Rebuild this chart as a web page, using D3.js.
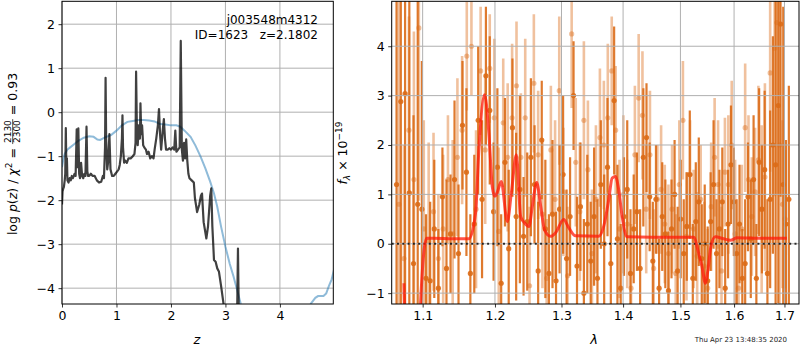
<!DOCTYPE html>
<html>
<head>
<meta charset="utf-8">
<script src="https://cdn.jsdelivr.net/npm/d3@7"></script>
<style>
  body { margin: 0; background: #fff; }
  svg { display: block; font-family: "DejaVu Sans", sans-serif; }
  .tick text { font-size: 12.5px; fill: #000; }
  .tick line { stroke: #000; stroke-width: 0.8; }
</style>
</head>
<body>
<script>
// ---- left panel: p(z) ----
var zTicks = [0, 1, 2, 3, 4];
var pzTicks = [-4, -3, -2, -1, 0, 1, 2];

var zBlack = [0.000,0.010,0.020,0.035,0.050,0.060,0.070,0.080,0.090,0.100,
  0.120,0.140,0.160,0.180,0.200,0.230,0.250,0.270,0.285,0.300,
  0.315,0.330,0.350,0.370,0.390,0.410,0.430,0.450,0.465,0.480,
  0.500,0.530,0.560,0.600,0.640,0.680,0.720,0.750,0.770,0.790,
  0.800,0.810,0.830,0.850,0.870,0.890,0.920,0.950,0.980,1.010,
  1.040,1.060,1.080,1.100,1.110,1.120,1.140,1.160,1.190,1.220,
  1.260,1.300,1.330,1.350,1.360,1.375,1.390,1.410,1.430,1.440,
  1.455,1.470,1.490,1.510,1.540,1.560,1.590,1.620,1.650,1.680,
  1.700,1.730,1.760,1.780,1.800,1.820,1.850,1.870,1.890,1.910,
  1.940,1.970,2.000,2.030,2.060,2.080,2.100,2.130,2.160,2.180,
  2.200,2.220,2.240,2.260,2.280,2.300,2.320,2.340,2.380,2.420,
  2.440,2.480,2.520,2.550,2.570,2.600,2.650,2.680,2.720,2.740,
  2.760,2.790,2.820,2.850,2.880,2.920,2.970,3.000,3.100,3.200,
  3.215,3.230,3.245,3.260,3.500];
var lnpBlack = [-2.10,-1.80,-1.75,-1.70,-1.55,-1.40,-0.36,-1.30,-1.05,-1.55,
  -1.60,-1.50,-1.55,-1.45,-1.50,-1.40,-1.45,-0.39,-1.25,-0.37,
  -1.40,-1.50,-1.15,-1.45,-1.50,-1.40,-1.45,-0.33,-1.35,-1.45,
  -1.45,-1.40,-1.45,-1.45,-1.55,-1.60,-1.58,-1.45,-1.50,-0.80,
  0.78,-0.60,-1.30,-1.10,-0.50,-1.30,-1.45,-1.45,-1.40,-1.35,
  -1.30,-1.20,-1.00,-0.60,-0.07,-0.80,-1.15,-1.10,-1.15,-1.05,
  -1.05,-1.00,-0.95,-0.70,0.92,-0.40,-0.75,-0.30,-0.60,0.20,
  -0.50,-0.30,-0.75,-0.80,-0.85,-0.95,-0.90,-1.05,-1.00,-1.05,
  -0.85,-0.60,-0.30,0.07,-0.50,-0.85,-0.40,-0.16,-0.60,-0.85,
  -0.85,-0.82,-0.85,-0.80,-0.85,-0.42,-0.90,-0.85,-0.80,1.62,
  -0.85,-1.10,-0.70,-1.05,-0.62,-1.10,-1.40,-1.50,-1.55,-1.60,
  -1.95,-2.27,-2.10,-1.90,-1.85,-2.50,-2.87,-2.60,-1.90,-1.73,
  -2.60,-3.36,-3.40,-3.55,-3.62,-3.95,-4.40,-4.80,-5.50,-5.50,
  -4.60,-3.10,-4.60,-5.50,-6.50];

var zBlue = [0.00,0.02,0.05,0.10,0.15,0.20,0.30,0.40,0.50,0.58,
  0.65,0.70,0.78,0.90,1.00,1.10,1.20,1.30,1.40,1.50,
  1.60,1.70,1.80,1.90,2.00,2.10,2.17,2.25,2.36,2.45,
  2.54,2.63,2.72,2.79,2.85,2.92,3.00,3.08,3.15,3.28,
  3.35,4.00,4.50,4.57,4.65,4.70,4.80,4.85,4.90,4.95,5.00];
var lnpBlue = [-1.25,-1.10,-0.95,-0.85,-0.80,-0.75,-0.65,-0.58,-0.55,-0.56,
  -0.62,-0.63,-0.58,-0.52,-0.42,-0.30,-0.22,-0.20,-0.18,-0.18,
  -0.19,-0.21,-0.27,-0.28,-0.30,-0.30,-0.33,-0.42,-0.56,-0.76,
  -1.00,-1.27,-1.58,-1.85,-2.15,-2.60,-3.06,-3.45,-3.74,-4.35,
  -4.60,-5.50,-4.55,-4.35,-4.22,-4.18,-4.18,-4.12,-3.95,-3.80,-3.55];

// ---- right panel: spectrum ----
var lamTicks = [1.1, 1.2, 1.3, 1.4, 1.5, 1.6, 1.7];
var fTicks = [-1, 0, 1, 2, 3, 4];

var darkWave = [1.066,1.0715,1.077,1.0825,1.088,1.0935,1.099,1.1045,1.110,1.1155,
  1.121,1.1265,1.132,1.1375,1.143,1.1485,1.154,1.1595,1.165,1.1705,
  1.176,1.1815,1.187,1.1925,1.198,1.2035,1.209,1.2145,1.220,1.2255,
  1.231,1.2365,1.242,1.2475,1.253,1.2585,1.264,1.2695,1.275,1.2805,
  1.286,1.2915,1.297,1.3025,1.308,1.3135,1.319,1.3245,1.330,1.3355,
  1.341,1.3465,1.352,1.3575,1.363,1.3685,1.374,1.3795,1.385,1.3905,
  1.396,1.4015,1.407,1.4125,1.418,1.4235,1.429,1.4345,1.440,1.4455,
  1.451,1.4565,1.462,1.4675,1.473,1.4785,1.484,1.4895,1.495,1.5005,
  1.506,1.5115,1.517,1.5225,1.528,1.5335,1.539,1.5445,1.550,1.5555,
  1.561,1.5665,1.572,1.5775,1.583,1.5885,1.594,1.5995,1.605,1.6105,
  1.616,1.6215,1.627,1.6325,1.638,1.6435,1.649,1.6545,1.660,1.6655,
  1.671,1.6765,1.682,1.6875,1.692,1.6975,1.703,1.709];
var darkFlux = [1.2,2.88,3.04,1.03,-0.4,0.8,0.7,-0.7,-0.75,0.3,
  -0.9,0.95,-0.5,0.2,1.3,-0.2,2.4,1.45,-0.6,0.4,
  2.5,0.9,3.4,2.7,0.65,1.55,-0.8,1.65,-0.1,2.35,
  0.55,1.1,0.15,0.45,1.75,1.2,-0.55,2.1,0.3,-0.6,
  0.6,-0.75,0.7,1.4,-0.3,0.55,3.0,-0.45,0.75,-1.0,
  0.4,-0.35,0.55,-0.7,1.2,0.0,1.55,-0.4,2.9,0.1,
  -0.9,0.55,1.1,-0.6,0.3,0.65,-0.5,1.75,2.15,0.95,
  -0.35,0.9,-0.9,0.55,0.2,-0.95,0.3,1.0,-0.55,0.5,
  -0.2,0.35,1.4,-0.7,0.45,0.85,-0.3,0.0,-0.75,0.45,
  1.2,-0.2,0.3,0.85,-0.9,0.4,1.6,0.85,-0.2,0.4,
  -0.7,-0.4,0.95,0.1,1.3,-0.7,1.65,0.7,1.5,-0.6,
  0.9,2.0,1.6,2.8,4.45,1.2,0.4,0.9];
var darkErr = [5.0,4.5,6.0,5.5,3.0,4.5,3.0,1.3,1.6,1.4,
  1.2,1.0,1.8,1.2,1.6,1.4,1.3,1.7,1.2,1.4,
  1.5,1.6,1.4,1.5,1.4,1.6,1.4,1.3,1.6,1.4,
  1.7,1.9,1.2,1.4,1.6,1.2,1.4,1.2,1.4,1.2,
  1.5,1.4,1.3,1.6,1.4,1.2,1.1,1.4,1.3,1.5,
  1.4,1.2,1.4,1.6,1.3,1.4,1.4,1.4,1.5,1.5,
  1.3,1.2,1.4,1.3,1.1,1.2,1.2,1.4,1.1,1.1,
  1.2,1.1,1.0,1.1,1.1,1.2,1.0,1.1,1.3,1.2,
  1.1,1.1,1.3,1.1,1.2,1.3,1.1,1.2,1.1,1.0,
  1.3,1.1,1.2,1.1,1.2,1.1,1.2,1.1,1.1,1.2,
  1.0,1.3,1.1,1.2,1.3,1.1,1.5,1.3,1.6,1.5,
  1.8,2.2,3.8,4.0,3.5,3.6,1.7,2.3];

var lightWave = [1.069,1.0755,1.082,1.0885,1.095,1.1015,1.108,1.1145,1.121,1.1275,
  1.134,1.1405,1.147,1.1535,1.160,1.1665,1.173,1.1795,1.186,1.1925,
  1.199,1.2055,1.212,1.2185,1.225,1.2315,1.238,1.2445,1.251,1.2575,
  1.264,1.2705,1.277,1.2835,1.290,1.2965,1.303,1.3095,1.316,1.3225,
  1.329,1.3355,1.342,1.3485,1.355,1.3615,1.368,1.3745,1.381,1.3875,
  1.394,1.4005,1.407,1.4135,1.420,1.4265,1.433,1.4395,1.446,1.4525,
  1.459,1.4655,1.472,1.4785,1.485,1.4915,1.498,1.5045,1.511,1.5175,
  1.524,1.5305,1.537,1.5435,1.550,1.5565,1.563,1.5695,1.576,1.5825,
  1.589,1.5955,1.602,1.6085,1.615,1.6215,1.628,1.6345,1.641,1.6475,
  1.654,1.6605,1.671,1.680,1.6845,1.690,1.696,1.7015];
var lightFlux = [0.8,-0.3,2.3,1.3,4.37,0.3,0.05,0.65,-0.3,0.3,
  1.3,0.2,1.75,2.3,3.8,4.0,0.7,3.5,1.9,3.55,
  2.55,0.25,2.45,1.75,2.55,3.2,1.75,2.55,-0.85,3.25,
  1.8,0.6,-0.7,1.9,0.9,3.1,1.05,-0.65,4.25,1.65,
  0.65,2.5,1.5,-0.2,0.9,2.15,2.0,2.55,3.5,2.3,
  0.3,1.0,0.4,-0.9,1.8,2.95,2.6,0.7,1.8,-0.5,
  0.9,1.1,0.4,-0.2,0.7,-0.6,1.2,2.5,0.15,1.4,
  0.3,-0.25,0.9,-0.45,-0.9,0.75,1.75,1.2,-0.55,1.45,
  1.2,2.0,0.2,-0.9,0.3,2.35,1.3,0.55,1.05,1.7,
  0.7,1.35,3.46,3.96,4.48,2.0,0.8,0.5];
var lightErr = [4.5,2.3,2.3,3.0,3.5,2.2,2.0,1.6,1.3,1.5,
  1.3,1.9,1.6,1.5,1.1,1.0,1.6,1.3,1.5,1.1,
  1.6,1.7,1.3,1.5,1.5,1.3,1.3,1.6,1.6,1.4,
  1.3,1.5,1.2,1.3,1.6,1.5,1.3,1.4,1.5,1.3,
  1.4,1.6,1.4,1.3,1.5,1.4,1.3,1.5,1.1,1.3,
  1.4,1.6,1.3,1.3,1.4,1.3,1.3,1.3,1.3,1.2,
  1.1,1.3,1.2,1.4,1.3,1.2,1.3,1.2,1.3,1.1,
  1.2,1.3,1.1,1.3,1.2,1.3,1.2,1.3,1.3,1.1,
  1.4,1.3,1.5,1.3,1.3,1.3,1.3,1.2,1.3,1.5,
  1.7,1.9,2.0,3.0,3.5,3.5,1.7,1.4];

var modelWave = [1.0755,1.080,1.095,1.0973,1.1053,1.115,1.140,1.1631,1.1723,1.1770,
  1.1851,1.1912,1.1961,1.1998,1.2033,1.2091,1.2180,1.2239,1.2313,1.2377,
  1.2436,1.2501,1.2552,1.2618,1.2679,1.2738,1.2829,1.2906,1.3035,1.3116,
  1.3220,1.3596,1.3677,1.3760,1.3817,1.3871,1.3927,1.3984,1.4068,1.450,
  1.5240,1.5332,1.5394,1.5456,1.5505,1.5561,1.5641,1.5801,1.5929,1.6057,
  1.650,1.705];
var modelFlux = [-0.8,-2.5,-2.5,-1.2,0.11,0.11,0.10,0.10,0.62,1.90,
  3.02,2.24,1.16,0.96,1.04,1.26,0.45,1.03,1.80,0.55,
  0.42,0.35,0.76,1.24,0.76,0.28,0.15,0.22,0.49,0.32,
  0.16,0.15,0.35,0.89,1.33,1.36,1.09,0.55,0.14,0.13,
  0.13,-0.19,-0.46,-0.80,-0.53,-0.05,0.14,0.10,0.07,0.12,
  0.11,0.11];

var w = 800, h = 350;
var svg = d3.select("body").append("svg")
  .attr("width", w)
  .attr("height", h);

var gridColor = "#b0b0b0";

// ================= left panel =================
var L = {x0: 62, x1: 333.3, y0: 1.3, y1: 304};
var xz = d3.scaleLinear().domain([0, 4.98]).range([L.x0, L.x1]);
var yp = d3.scaleLinear().domain([-4.36, 2.52]).range([L.y1, L.y0]);

svg.append("clipPath").attr("id", "clipL").append("rect")
  .attr("x", L.x0).attr("y", L.y0).attr("width", L.x1 - L.x0).attr("height", L.y1 - L.y0);

var gL = svg.append("g");
gL.selectAll("line.gx").data(zTicks).enter().append("line")
  .attr("x1", function(d){ return xz(d); }).attr("x2", function(d){ return xz(d); })
  .attr("y1", L.y0).attr("y2", L.y1)
  .attr("stroke", gridColor).attr("stroke-width", 1);
gL.selectAll("line.gy").data(pzTicks).enter().append("line")
  .attr("y1", function(d){ return yp(d); }).attr("y2", function(d){ return yp(d); })
  .attr("x1", L.x0).attr("x2", L.x1)
  .attr("stroke", gridColor).attr("stroke-width", 1);

var lineL = d3.line()
  .x(function(d){ return xz(d[0]); })
  .y(function(d){ return yp(d[1]); });

var dataL = gL.append("g").attr("clip-path", "url(#clipL)");
dataL.append("path")
  .datum(d3.zip(zBlue, lnpBlue))
  .attr("d", lineL)
  .attr("fill", "none")
  .attr("stroke", "#1f77b4")
  .attr("stroke-opacity", 0.5)
  .attr("stroke-width", 2);
dataL.append("path")
  .datum(d3.zip(zBlack, lnpBlack))
  .attr("d", lineL)
  .attr("fill", "none")
  .attr("stroke", "#000")
  .attr("stroke-opacity", 0.75)
  .attr("stroke-width", 2.2)
  .attr("stroke-linejoin", "round");

svg.append("g")
  .attr("transform", "translate(0," + L.y1 + ")")
  .call(d3.axisBottom(xz).tickValues(zTicks).tickFormat(d3.format("d")).tickSize(3.5).tickPadding(3.5))
  .call(function(g){ g.select(".domain").remove(); })
  .selectAll("text").attr("font-family", "DejaVu Sans");
svg.append("g")
  .attr("transform", "translate(" + L.x0 + ",0)")
  .call(d3.axisLeft(yp).tickValues(pzTicks).tickFormat(d3.format("d")).tickSize(3.5).tickPadding(3.5))
  .call(function(g){ g.select(".domain").remove(); })
  .selectAll("text").attr("font-family", "DejaVu Sans");

svg.append("rect")
  .attr("x", L.x0).attr("y", L.y0).attr("width", L.x1 - L.x0).attr("height", L.y1 - L.y0)
  .attr("fill", "none").attr("stroke", "#000").attr("stroke-width", 1);

svg.append("text").attr("x", 318).attr("y", 24).attr("text-anchor", "end")
  .attr("font-size", "12px").text("j003548m4312");
svg.append("text").attr("x", 318).attr("y", 39).attr("text-anchor", "end")
  .attr("font-size", "12px").attr("xml:space", "preserve").text("ID=1623   z=2.1802");

svg.append("text").attr("x", 197).attr("y", 344).attr("text-anchor", "middle")
  .attr("font-size", "13px").attr("font-style", "italic").text("z");

// y label with fraction
var yl = svg.append("g");
var t1 = yl.append("text").attr("x", 0).attr("y", 0).attr("font-size", "12.5px")
  .attr("xml:space", "preserve");
t1.append("tspan").text("log ");
t1.append("tspan").attr("font-style", "italic").text("p");
t1.append("tspan").text("(");
t1.append("tspan").attr("font-style", "italic").text("z");
t1.append("tspan").text(") / ");
t1.append("tspan").attr("font-style", "italic").text("χ");
t1.append("tspan").attr("font-size", "9px").attr("dy", -5).text("2");
t1.append("tspan").attr("dy", 5).text(" = ");
var w1 = t1.node().getComputedTextLength();
var num = yl.append("text").attr("font-size", "9px").attr("text-anchor", "middle").text("2130");
var den = yl.append("text").attr("font-size", "9px").attr("text-anchor", "middle").text("2300");
var fw = den.node().getComputedTextLength() + 2;
num.attr("x", w1 + fw / 2).attr("y", -5.6);
den.attr("x", w1 + fw / 2).attr("y", 3.2);
yl.append("line").attr("x1", w1).attr("x2", w1 + fw).attr("y1", -4.3).attr("y2", -4.3)
  .attr("stroke", "#000").attr("stroke-width", 0.7);
var t3 = yl.append("text").attr("x", w1 + fw).attr("y", 0).attr("font-size", "12.5px")
  .attr("xml:space", "preserve").text(" = 0.93");
var wl = w1 + fw + t3.node().getComputedTextLength();
yl.attr("transform", "translate(17,154) rotate(-90) translate(" + (-wl / 2) + ",0)");

// ================= right panel =================
var R = {x0: 391.7, x1: 799, y0: 1.3, y1: 304};
var xl = d3.scaleLog().domain([1.0598, 1.730]).range([R.x0, R.x1]);
var yf = d3.scaleLinear().domain([-1.22, 4.91]).range([R.y1, R.y0]);

svg.append("clipPath").attr("id", "clipR").append("rect")
  .attr("x", R.x0).attr("y", R.y0).attr("width", R.x1 - R.x0).attr("height", R.y1 - R.y0);

var gR = svg.append("g").attr("clip-path", "url(#clipR)");

var orange = "#dc6c17";
var darkPts = darkWave.map(function(d, i){ return {w: d, f: darkFlux[i], e: darkErr[i]}; });
var lightPts = lightWave.map(function(d, i){ return {w: d, f: lightFlux[i], e: lightErr[i]}; });

gR.selectAll("line.dk").data(darkPts).enter().append("line")
  .attr("class", "dk")
  .attr("x1", function(d){ return xl(d.w); }).attr("x2", function(d){ return xl(d.w); })
  .attr("y1", function(d){ return yf(d.f - d.e); }).attr("y2", function(d){ return yf(d.f + d.e); })
  .attr("stroke", orange).attr("stroke-opacity", 0.9).attr("stroke-width", 2.2);
gR.selectAll("circle.dk").data(darkPts).enter().append("circle")
  .attr("class", "dk")
  .attr("cx", function(d){ return xl(d.w); }).attr("cy", function(d){ return yf(d.f); })
  .attr("r", 2.6).attr("fill", orange).attr("fill-opacity", 0.9);

gR.selectAll("line.lt").data(lightPts).enter().append("line")
  .attr("class", "lt")
  .attr("x1", function(d){ return xl(d.w); }).attr("x2", function(d){ return xl(d.w); })
  .attr("y1", function(d){ return yf(d.f - d.e); }).attr("y2", function(d){ return yf(d.f + d.e); })
  .attr("stroke", orange).attr("stroke-opacity", 0.42).attr("stroke-width", 2.6);
gR.selectAll("circle.lt").data(lightPts).enter().append("circle")
  .attr("class", "lt")
  .attr("cx", function(d){ return xl(d.w); }).attr("cy", function(d){ return yf(d.f); })
  .attr("r", 2.6).attr("fill", orange).attr("fill-opacity", 0.42);

gR.selectAll("line.gx").data(lamTicks).enter().append("line")
  .attr("x1", function(d){ return xl(d); }).attr("x2", function(d){ return xl(d); })
  .attr("y1", R.y0).attr("y2", R.y1)
  .attr("stroke", gridColor).attr("stroke-width", 1);
gR.selectAll("line.gy").data(fTicks).enter().append("line")
  .attr("y1", function(d){ return yf(d); }).attr("y2", function(d){ return yf(d); })
  .attr("x1", R.x0).attr("x2", R.x1)
  .attr("stroke", gridColor).attr("stroke-width", 1);

gR.append("line")
  .attr("x1", R.x0).attr("x2", R.x1)
  .attr("y1", yf(0)).attr("y2", yf(0))
  .attr("stroke", "#000").attr("stroke-opacity", 0.8)
  .attr("stroke-width", 2).attr("stroke-dasharray", "2,3.3");

gR.append("path")
  .datum(d3.zip(modelWave, modelFlux))
  .attr("d", d3.line()
    .x(function(d){ return xl(d[0]); })
    .y(function(d){ return yf(d[1]); })
    .curve(d3.curveMonotoneX))
  .attr("fill", "none")
  .attr("stroke", "#ff1a0a")
  .attr("stroke-opacity", 0.75)
  .attr("stroke-width", 3);

svg.append("g")
  .attr("transform", "translate(0," + R.y1 + ")")
  .call(d3.axisBottom(xl).tickValues(lamTicks).tickFormat(d3.format(".1f")).tickSize(3.5).tickPadding(3.5))
  .call(function(g){ g.select(".domain").remove(); })
  .selectAll("text").attr("font-family", "DejaVu Sans");
svg.append("g")
  .attr("transform", "translate(" + R.x0 + ",0)")
  .call(d3.axisLeft(yf).tickValues(fTicks).tickFormat(d3.format("d")).tickSize(3.5).tickPadding(3.5))
  .call(function(g){ g.select(".domain").remove(); })
  .selectAll("text").attr("font-family", "DejaVu Sans");

svg.append("rect")
  .attr("x", R.x0).attr("y", R.y0).attr("width", R.x1 - R.x0).attr("height", R.y1 - R.y0)
  .attr("fill", "none").attr("stroke", "#000").attr("stroke-width", 1);

svg.append("text").attr("x", 594).attr("y", 344).attr("text-anchor", "middle")
  .attr("font-size", "13px").attr("font-style", "italic").text("λ");

var fl = svg.append("text").attr("font-size", "12.5px").attr("text-anchor", "middle")
  .attr("transform", "translate(347,153) rotate(-90)").attr("xml:space", "preserve");
fl.append("tspan").attr("font-style", "italic").text("f");
fl.append("tspan").attr("font-style", "italic").attr("font-size", "9px").attr("dy", 3).text("λ");
fl.append("tspan").attr("dy", -3).text(" × 10");
fl.append("tspan").attr("font-size", "9px").attr("dy", -5).text("−19");

svg.append("text").attr("x", 787).attr("y", 342).attr("text-anchor", "end")
  .attr("font-size", "7px").attr("fill", "#222").text("Thu Apr 23 13:48:35 2020");
</script>
</body>
</html>
